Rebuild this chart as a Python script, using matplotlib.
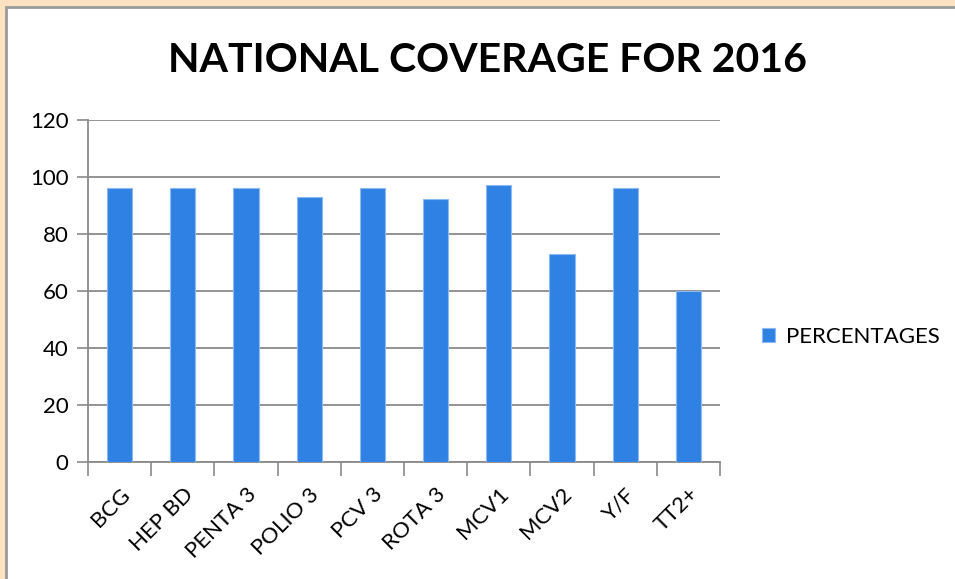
import matplotlib
matplotlib.use("Agg")
import matplotlib.pyplot as plt
from matplotlib.patches import Rectangle
import numpy as np

plt.rcParams['font.family'] = ['Lato', 'DejaVu Sans']

vaccins = ['BCG', 'HEP BD', 'PENTA 3', 'POLIO 3', 'PCV 3', 'ROTA 3', 'MCV1', 'MCV2', 'Y/F', 'TT2+']
pourcentages = [96, 96, 96, 93, 96, 92, 97, 73, 96, 60]
graduations = [0, 20, 40, 60, 80, 100, 120]

W, H = 955, 579
fig = plt.figure(figsize=(W / 100, H / 100), dpi=100, facecolor='#FBE3C2')

# cadre blanc avec bord gris
fig.patches.append(Rectangle((6 / W, -0.05), 1, (H - 7) / H + 0.05, transform=fig.transFigure,
                             facecolor='white', edgecolor='#9a9a9a', linewidth=2, zorder=-5))

ax = fig.add_axes([88 / W, 1 - 462 / H, (720 - 88) / W, (462 - 119.5) / H])
ax.set_facecolor('none')

x = np.arange(len(vaccins))
ax.bar(x, pourcentages, width=0.4, color='#2F82E4', edgecolor='#8DB8F0', linewidth=0.8,
       label='PERCENTAGES', zorder=3)

ax.set_xlim(-0.5, len(vaccins) - 0.5)
ax.set_ylim(0, 120)
ax.set_yticks(graduations)
ax.tick_params(axis='y', labelsize=16, length=8, color='#8a8a8a', width=1.2, pad=6)
ax.yaxis.grid(True, color='#8a8a8a', linewidth=1.3, zorder=0)
ax.set_axisbelow(True)

ax.set_xticks(x)
ax.set_xticklabels(vaccins, rotation=45, ha='right', rotation_mode='anchor', fontsize=16)
ax.tick_params(axis='x', length=0, pad=16)
ax.set_xticks(np.arange(len(vaccins) + 1) - 0.5, minor=True)
ax.tick_params(axis='x', which='minor', length=10, color='#8a8a8a', width=1.2)

for cote in ['top', 'right']:
    ax.spines[cote].set_visible(False)
for cote in ['left', 'bottom']:
    ax.spines[cote].set_color('#8a8a8a')
    ax.spines[cote].set_linewidth(1.3)

fig.text(487 / W, 1 - 61 / H, 'NATIONAL COVERAGE FOR 2016', ha='center', va='center',
         fontsize=29.5, fontweight='bold', color='black')

ax.legend(loc='center left', bbox_to_anchor=(742 / W, 1 - 337 / H), bbox_transform=fig.transFigure,
          frameon=False, fontsize=16, handlelength=0.6, handleheight=0.6, handletextpad=0.5)

fig.savefig('out.png', dpi=100, facecolor=fig.get_facecolor())
